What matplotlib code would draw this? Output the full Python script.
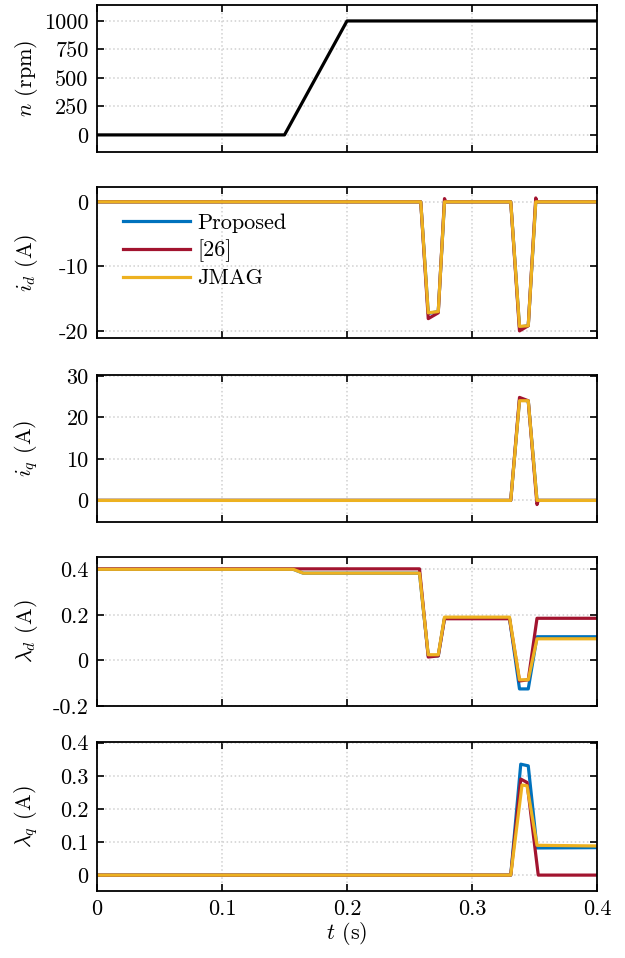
import numpy as np
import matplotlib
matplotlib.use("Agg")
import matplotlib.pyplot as plt

plt.rcParams['font.family'] = ['cmr10', 'DejaVu Serif']
plt.rcParams['mathtext.fontset'] = 'cm'
plt.rcParams['axes.formatter.use_mathtext'] = True
plt.rcParams['font.size'] = 16

BLUE = '#0072BD'
RED = '#A2142F'
YEL = '#EDB120'

# speed
t_n = [0, 0.15, 0.20, 0.4]
n_vals = [0, 0, 1000, 1000]

# i_d
t_id = [0, 0.259, 0.265, 0.273, 0.278, 0.279, 0.331, 0.338, 0.345, 0.351, 0.352, 0.4]
id_prop = [0, 0, -17.3, -17.0, 0, 0, 0, -19.4, -19.2, 0, 0, 0]
id_ref = [0, 0, -18.1, -17.2, 0.5, 0, 0, -20.0, -19.2, 0.6, 0, 0]
id_jmag = [0, 0, -17.2, -17.0, 0, 0, 0, -19.3, -19.2, 0, 0, 0]

# i_q
t_iq = [0, 0.331, 0.338, 0.345, 0.352, 0.353, 0.4]
iq_prop = [0, 0, 24.2, 24.0, 0, 0, 0]
iq_ref = [0, 0, 24.8, 24.0, -1.0, 0, 0]
iq_jmag = [0, 0, 24.0, 24.0, 0, 0, 0]

# lambda_d
t_ld = [0, 0.157, 0.165, 0.258, 0.265, 0.273, 0.278, 0.330, 0.338, 0.345, 0.352, 0.4]
ld_prop = [0.4, 0.4, 0.383, 0.383, 0.02, 0.02, 0.185, 0.185, -0.125, -0.125, 0.104, 0.104]
ld_jmag = [0.4, 0.4, 0.383, 0.383, 0.025, 0.025, 0.19, 0.19, -0.085, -0.085, 0.095, 0.095]
t_ld_ref = [0, 0.258, 0.265, 0.273, 0.278, 0.330, 0.338, 0.345, 0.352, 0.4]
ld_ref = [0.402, 0.402, 0.015, 0.02, 0.183, 0.183, -0.09, -0.085, 0.185, 0.185]

# lambda_q
t_lq_prop = [0, 0.331, 0.339, 0.345, 0.352, 0.4]
lq_prop = [0, 0, 0.335, 0.33, 0.082, 0.083]
t_lq_ref = [0, 0.331, 0.339, 0.344, 0.353, 0.4]
lq_ref = [0, 0, 0.29, 0.28, 0, 0]
t_lq_jmag = [0, 0.331, 0.340, 0.344, 0.352, 0.4]
lq_jmag = [0, 0, 0.272, 0.27, 0.09, 0.088]

x_ticks = [0, 0.1, 0.2, 0.3, 0.4]
x_ticklabels = ['0', '0.1', '0.2', '0.3', '0.4']

fig = plt.figure(figsize=(6.25, 9.58), dpi=100)
W = 625.0
H = 958.0
panels = [(5, 152), (187, 338), (375, 522), (557, 706), (742, 891)]
axes = []
for top, bot in panels:
    ax = fig.add_axes([97 / W, 1 - bot / H, 500 / W, (bot - top) / H])
    axes.append(ax)

lw = 2.3
ax = axes[0]
ax.plot(t_n, n_vals, color='black', lw=lw)
ax.set_ylim(-150, 1140)
ax.set_yticks([0, 250, 500, 750, 1000])
ax.set_yticklabels(['0', '250', '500', '750', '1000'])
ax.set_ylabel(r'$n$ (rpm)')

ax = axes[1]
ax.plot(t_id, id_prop, color=BLUE, lw=lw, label='Proposed')
ax.plot(t_id, id_ref, color=RED, lw=lw, label='[26]')
ax.plot(t_id, id_jmag, color=YEL, lw=lw, label='JMAG')
ax.set_ylim(-21.1, 2.3)
ax.set_yticks([-20, -10, 0])
ax.set_yticklabels(['-20', '-10', '0'])
ax.set_ylabel(r'$i_d$ (A)')
ax.legend(loc='upper left', bbox_to_anchor=(0.034, 0.885), frameon=False,
          handlelength=3.0, handletextpad=0.35, labelspacing=0.3, borderaxespad=0)

ax = axes[2]
ax.plot(t_iq, iq_prop, color=BLUE, lw=lw)
ax.plot(t_iq, iq_ref, color=RED, lw=lw)
ax.plot(t_iq, iq_jmag, color=YEL, lw=lw)
ax.set_ylim(-5.2, 30.2)
ax.set_yticks([0, 10, 20, 30])
ax.set_yticklabels(['0', '10', '20', '30'])
ax.set_ylabel(r'$i_q$ (A)')

ax = axes[3]
ax.plot(t_ld, ld_prop, color=BLUE, lw=lw)
ax.plot(t_ld_ref, ld_ref, color=RED, lw=lw)
ax.plot(t_ld, ld_jmag, color=YEL, lw=lw)
ax.set_ylim(-0.2, 0.454)
ax.set_yticks([-0.2, 0, 0.2, 0.4])
ax.set_yticklabels(['-0.2', '0', '0.2', '0.4'])
ax.set_ylabel(r'$\lambda_d$ (A)')

ax = axes[4]
ax.plot(t_lq_prop, lq_prop, color=BLUE, lw=lw)
ax.plot(t_lq_ref, lq_ref, color=RED, lw=lw)
ax.plot(t_lq_jmag, lq_jmag, color=YEL, lw=lw)
ax.set_ylim(-0.048, 0.402)
ax.set_yticks([0, 0.1, 0.2, 0.3, 0.4])
ax.set_yticklabels(['0', '0.1', '0.2', '0.3', '0.4'])
ax.set_ylabel(r'$\lambda_q$ (A)')
ax.set_xlabel(r'$t$ (s)', labelpad=1)

for i, ax in enumerate(axes):
    ax.set_xlim(0, 0.4)
    ax.set_xticks(x_ticks)
    if i < 4:
        ax.set_xticklabels([])
    else:
        ax.set_xticklabels(x_ticklabels)
    ax.grid(True, linestyle=':', color='#d0d0d0', linewidth=1.1)
    ax.tick_params(direction='in', top=True, right=True, length=5, width=1.2, pad=6)
    for s in ax.spines.values():
        s.set_linewidth(1.3)
    ax.yaxis.set_label_coords(-0.115, 0.5)

fig.savefig('out.png', dpi=100)
